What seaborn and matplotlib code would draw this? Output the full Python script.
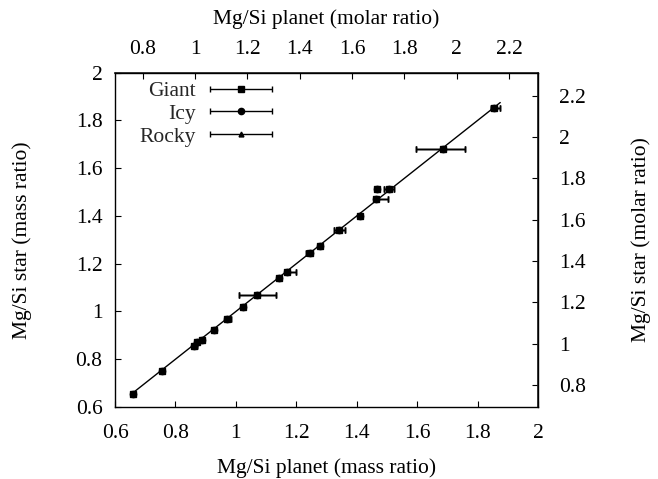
import matplotlib
matplotlib.use('Agg')
import matplotlib.pyplot as plt
import seaborn as sns
import pandas as pd
from matplotlib.ticker import FuncFormatter
from matplotlib.container import ErrorbarContainer
from matplotlib.legend_handler import HandlerErrorbar

# ---- data ----
planet_mass = [0.659, 0.757, 0.862, 0.870, 0.887, 0.927, 0.972, 1.023, 1.071, 1.144,
               1.168, 1.245, 1.279, 1.343, 1.411, 1.465, 1.468, 1.508, 1.685, 1.853]
star_mass = [0.655, 0.752, 0.857, 0.874, 0.881, 0.923, 0.968, 1.020, 1.069, 1.140,
             1.166, 1.243, 1.274, 1.341, 1.400, 1.472, 1.511, 1.511, 1.681, 1.852]
err_lo = [0.005, 0.005, 0.008, 0.005, 0.005, 0.005, 0.005, 0.005, 0.061, 0.005,
          0.005, 0.014, 0.005, 0.017, 0.005, 0.008, 0.005, 0.017, 0.088, 0.008]
err_hi = [0.005, 0.005, 0.008, 0.005, 0.005, 0.005, 0.012, 0.005, 0.061, 0.005,
          0.030, 0.005, 0.005, 0.017, 0.005, 0.040, 0.005, 0.017, 0.075, 0.022]
fit_x = [0.655, 1.875]
fit_y = [0.655, 1.875]
series = ["Giant", "Icy", "Rocky"]
mass_ticks = [0.6, 0.8, 1.0, 1.2, 1.4, 1.6, 1.8, 2.0]
molar_ticks = [0.8, 1.0, 1.2, 1.4, 1.6, 1.8, 2.0, 2.2]
MOLAR = 28.0855 / 24.305  # mass ratio -> molar ratio

FS = 15.5
sns.set_theme(style='ticks')
plt.rcParams['font.family'] = ['Liberation Serif', 'DejaVu Serif']
plt.rcParams['font.size'] = FS

W, H = 658, 479
fig = plt.figure(figsize=(W / 100, H / 100), dpi=100)
ax = fig.add_axes([115 / W, 1 - 407 / H, (538 - 115) / W, (407 - 72.7) / H])

df_fit = pd.DataFrame({'x': fit_x, 'y': fit_y})
sns.lineplot(data=df_fit, x='x', y='y', ax=ax, color='black', lw=1.0, zorder=2)

markers = {'Giant': 's', 'Icy': 'o', 'Rocky': '^'}
msizes = {'Giant': 5.0, 'Icy': 4.5, 'Rocky': 3.5}
handles = {}
for name in ['Rocky', 'Icy', 'Giant']:
    cont = ax.errorbar(planet_mass, star_mass, xerr=[err_lo, err_hi], fmt=markers[name],
                       ms=msizes[name], color='black', ecolor='black', elinewidth=1.0,
                       capsize=2.2, capthick=1.0, linestyle='none', zorder=3)
    handles[name] = cont

ax.set_xlim(0.6, 2.0)
ax.set_ylim(0.6, 2.0)
fmt = FuncFormatter(lambda v, p: f"{v:g}")
ax.set_xticks(mass_ticks)
ax.set_yticks(mass_ticks)
ax.xaxis.set_major_formatter(fmt)
ax.yaxis.set_major_formatter(fmt)
ax.tick_params(axis='x', direction='in', length=4, width=0.8, colors='black', pad=12, labelsize=FS)
ax.tick_params(axis='y', direction='in', length=4, width=0.8, colors='black', pad=9, labelsize=FS)
for s in ax.spines.values():
    s.set_visible(True)
    s.set_color('black')
    s.set_linewidth(1.0)

secx = ax.secondary_xaxis('top', functions=(lambda v: v * MOLAR, lambda v: v / MOLAR))
secx.set_xticks(molar_ticks)
secx.xaxis.set_major_formatter(fmt)
secx.tick_params(axis='x', direction='in', length=4, width=0.8, colors='black', pad=10, labelsize=FS)
secy = ax.secondary_yaxis('right', functions=(lambda v: v * MOLAR, lambda v: v / MOLAR))
secy.set_yticks(molar_ticks)
secy.yaxis.set_major_formatter(fmt)
secy.tick_params(axis='y', direction='in', length=4, width=0.8, colors='black', pad=15, labelsize=FS)

ax.set_xlabel('Mg/Si planet (mass ratio)', fontsize=FS, labelpad=11, color='black')
ax.set_ylabel('Mg/Si star (mass ratio)', fontsize=FS, labelpad=31.5, color='black')
secx.set_xlabel('Mg/Si planet (molar ratio)', fontsize=FS, labelpad=11.5, color='black')
secy.set_ylabel('Mg/Si star (molar ratio)', fontsize=FS, labelpad=33, color='black')

hl = 2.87
leg = ax.legend([handles[n] for n in series], series, loc='upper right',
                bbox_to_anchor=(272 / W, 1 - 81 / H), bbox_transform=fig.transFigure,
                frameon=False, markerfirst=False, borderpad=0, borderaxespad=0,
                handlelength=hl, handletextpad=0.65, labelspacing=0.125, fontsize=FS,
                handler_map={ErrorbarContainer: HandlerErrorbar(xerr_size=hl / 2)})

fig.savefig('out.png', dpi=100)
